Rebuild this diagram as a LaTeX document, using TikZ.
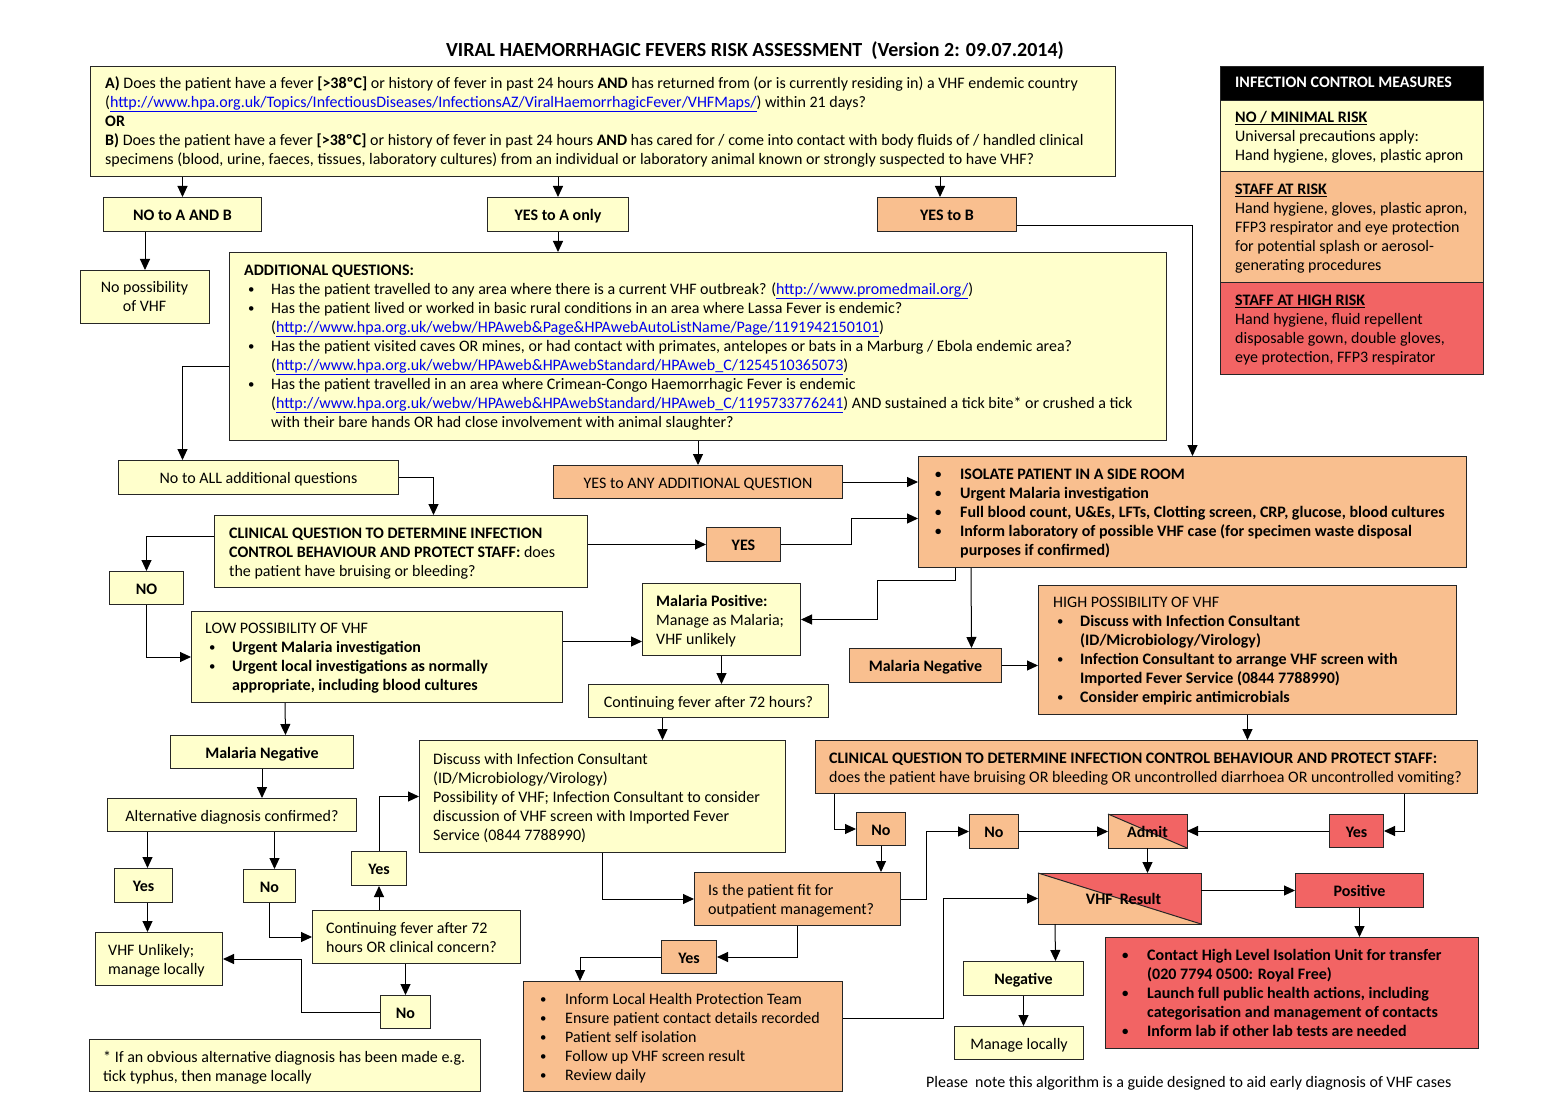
\documentclass[tikz,border=0pt]{standalone}
\usepackage{fontspec}
\usepackage{graphicx}
\setmainfont{Carlito}
\usetikzlibrary{arrows.meta}
\definecolor{cy}{HTML}{FFFFCC}
\definecolor{co}{HTML}{F9BF8F}
\definecolor{cr}{HTML}{F26464}
\definecolor{lnk}{HTML}{0000EE}
\newcommand{\fs}{\fontsize{16}{19}\selectfont}
\newcommand{\lk}[1]{\textcolor{lnk}{\underline{#1}}}
\newcommand{\myb}[1]{\makebox[#1pt][l]{\raisebox{0.6pt}{\scalebox{0.8}{•}}}}
\newcommand{\myi}[1]{\hspace*{#1pt}}
\begin{document}
\begin{tikzpicture}[x=1pt,y=-1pt,
 bx/.style={draw=black!85, line width=1pt, inner sep=0pt, anchor=north west, font=\fs, text height=12pt, text depth=0pt},
 yb/.style={bx, fill=cy}, ob/.style={bx, fill=co}, rb/.style={bx, fill=cr},
 wh/.style 2 args={minimum width=#1pt, minimum height=#2pt},
 tx/.style={anchor=north west, inner sep=0pt, align=left, font=\fs},
 ar/.style={-{Triangle[length=11pt,width=10pt]}, line width=1pt, draw=black},
 bb/.style={font=\fs\bfseries}]
\fill[white] (0,0) rectangle (1550,1115);
\useasboundingbox (0,0) rectangle (1550,1115);

% title
\node[font=\fontsize{20}{22}\selectfont\bfseries] (title) at (755,50.5) {VIRAL HAEMORRHAGIC FEVERS RISK ASSESSMENT\ \ (Version 2: 09.07.2014)};

% top box
\node[yb, wh={1025}{110}] (topA) at (90,66) {};
\node[tx] (topAt) at (105,75) {\strut\textbf{A)} Does the patient have a fever \textbf{[>38ºC]} or history of fever in past 24 hours \textbf{AND} has returned from (or is currently residing in) a VHF endemic country\\
(\lk{http://www.hpa.org.uk/Topics/InfectiousDiseases/InfectionsAZ/ViralHaemorrhagicFever/VHFMaps/}) within 21 days?\\
\textbf{OR}\\
\textbf{B)} Does the patient have a fever \textbf{[>38ºC]} or history of fever in past 24 hours \textbf{AND} has cared for / come into contact with body fluids of / handled clinical\\
specimens (blood, urine, faeces, tissues, laboratory cultures) from an individual or laboratory animal known or strongly suspected to have VHF?};

% infection control measures
\node[bx, fill=black, wh={263}{34}] (icmh) at (1220,66) {};
\node[anchor=base west, inner sep=0pt, text=white, bb] (icmht) at (1235,87.5) {INFECTION CONTROL MEASURES};
\node[yb, wh={263}{71}] (icm1) at (1220,100) {};
\node[tx] (icm1t) at (1235,109) {\strut\textbf{\underline{NO / MINIMAL RISK}}\\ Universal precautions apply:\\ Hand hygiene, gloves, plastic apron};
\node[ob, wh={263}{111}] (icm2) at (1220,171) {};
\node[tx] (icm2t) at (1235,181) {\strut\textbf{\underline{STAFF AT RISK}}\\ Hand hygiene, gloves, plastic apron,\\ FFP3 respirator and eye protection\\ for potential splash or aerosol-\\ generating procedures};
\node[rb, wh={263}{92}] (icm3) at (1220,282) {};
\node[tx] (icm3t) at (1235,292) {\strut\textbf{\underline{STAFF AT HIGH RISK}}\\ Hand hygiene, fluid repellent\\ disposable gown, double gloves,\\ eye protection, FFP3 respirator};

% second row
\node[yb, wh={158}{34}, bb] (noab) at (103,197) {NO to A AND B};
\node[yb, wh={141}{34}, bb] (yesa) at (487,197) {YES to A only};
\node[ob, wh={139}{34}, bb] (yesb) at (877,197) {YES to B};
\node[yb, wh={129}{53}] (nop) at (80,270) {};
\node[anchor=north, inner sep=0pt, align=center, font=\fs] (nopt) at (144.5,279.5) {\strut No possibility\\ of VHF};

% additional questions
\node[yb, wh={937}{188}] (addq) at (229,252) {};
\node[tx] (addqt) at (244,262) {\strut\textbf{ADDITIONAL QUESTIONS:}\\
\myi{4}\myb{23}Has the patient travelled to any area where there is a current VHF outbreak? (\lk{http://www.promedmail.org/})\\
\myi{4}\myb{23}Has the patient lived or worked in basic rural conditions in an area where Lassa Fever is endemic?\\
\myi{27}(\lk{http://www.hpa.org.uk/webw/HPAweb\&Page\&HPAwebAutoListName/Page/1191942150101})\\
\myi{4}\myb{23}Has the patient visited caves OR mines, or had contact with primates, antelopes or bats in a Marburg / Ebola endemic area?\\
\myi{27}(\lk{http://www.hpa.org.uk/webw/HPAweb\&HPAwebStandard/HPAweb\_C/1254510365073})\\
\myi{4}\myb{23}Has the patient travelled in an area where Crimean-Congo Haemorrhagic Fever is endemic\\
\myi{27}(\lk{http://www.hpa.org.uk/webw/HPAweb\&HPAwebStandard/HPAweb\_C/1195733776241}) AND sustained a tick bite* or crushed a tick\\
\myi{27}with their bare hands OR had close involvement with animal slaughter?};

\node[yb, wh={280}{34}] (noall) at (118,460) {No to ALL additional questions};
\node[ob, wh={289}{33}] (yesany) at (553,465) {YES to ANY ADDITIONAL QUESTION};

% isolate
\node[ob, wh={548}{111}] (isol) at (918,456) {};
\node[tx, font=\fs\bfseries] (isolt) at (935,466) {\strut\myb{25}ISOLATE PATIENT IN A SIDE ROOM\\
\myb{25}Urgent Malaria investigation\\
\myb{25}Full blood count, U\&Es, LFTs, Clotting screen, CRP, glucose, blood cultures\\
\myb{25}Inform laboratory of possible VHF case (for specimen waste disposal\\
\myi{25}purposes if confirmed)};

% clinical question 1
\node[yb, wh={373}{72}] (cq1) at (214,515) {};
\node[tx] (cq1t) at (229,525) {\strut\textbf{CLINICAL QUESTION TO DETERMINE INFECTION}\\ \textbf{CONTROL BEHAVIOUR AND PROTECT STAFF:} does\\ the patient have bruising or bleeding?};
\node[ob, wh={74}{34}, bb] (yes1) at (706,527) {YES};
\node[yb, wh={74}{33}, bb] (no1) at (109,571) {NO};

% low possibility
\node[yb, wh={371}{91}] (low) at (191,611) {};
\node[tx] (lowt) at (205,620) {\strut LOW POSSIBILITY OF VHF\\
\myi{4}\myb{23}\textbf{Urgent Malaria investigation}\\
\myi{4}\myb{23}\textbf{Urgent local investigations as normally}\\
\myi{27}\textbf{appropriate, including blood cultures}};

% malaria positive
\node[yb, wh={158}{72}] (mpos) at (642,583) {};
\node[tx] (mpost) at (656,593) {\strut\textbf{Malaria Positive:}\\ Manage as Malaria;\\ VHF unlikely};

\node[ob, wh={152}{34}, bb] (mnegr) at (849,648) {Malaria Negative};

% high possibility
\node[ob, wh={418}{129}] (high) at (1038,585) {};
\node[tx] (hight) at (1053,594) {\strut HIGH POSSIBILITY OF VHF\\
\myi{4}\myb{23}\textbf{Discuss with Infection Consultant}\\
\myi{27}\textbf{(ID/Microbiology/Virology)}\\
\myi{4}\myb{23}\textbf{Infection Consultant to arrange VHF screen with}\\
\myi{27}\textbf{Imported Fever Service (0844 7788990)}\\
\myi{4}\myb{23}\textbf{Consider empiric antimicrobials}};

\node[yb, wh={240}{33}] (cont72) at (588,684) {Continuing fever after 72 hours?};

% discuss
\node[yb, wh={366}{112}] (disc) at (419,740) {};
\node[tx] (disct) at (433,751) {\strut Discuss with Infection Consultant\\ (ID/Microbiology/Virology)\\ Possibility of VHF; Infection Consultant to consider\\ discussion of VHF screen with Imported Fever\\ Service (0844 7788990)};

% left bottom branch
\node[yb, wh={183}{33}, bb] (mnegl) at (170,735) {Malaria Negative};
\node[yb, wh={249}{33}] (alt) at (107,798) {Alternative diagnosis confirmed?};
\node[yb, wh={58}{34}, bb] (yes2) at (114,868) {Yes};
\node[yb, wh={52}{33}, bb] (no2) at (243,869) {No};
\node[yb, wh={127}{53}] (vhfun) at (95,932) {};
\node[tx] (vhfunt) at (108,942) {\strut VHF Unlikely;\\ manage locally};
\node[yb, wh={208}{53}] (c72b) at (312,910) {};
\node[tx] (c72bt) at (326,920) {\strut Continuing fever after 72\\ hours OR clinical concern?};
\node[yb, wh={55}{34}, bb] (yes3) at (351,851) {Yes};
\node[yb, wh={50}{33}, bb] (no3) at (380,995) {No};
\node[yb, wh={391}{52}] (foot) at (89,1039) {};
\node[tx] (foott) at (103,1049) {\strut * If an obvious alternative diagnosis has been made e.g.\\ tick typhus, then manage locally};

% clinical question 2
\node[ob, wh={662}{53}] (cq2) at (815,740) {};
\node[tx] (cq2t) at (829,750) {\strut\textbf{CLINICAL QUESTION TO DETERMINE INFECTION CONTROL BEHAVIOUR AND PROTECT STAFF:}\\ does the patient have bruising OR bleeding OR uncontrolled diarrhoea OR uncontrolled vomiting?};
\node[ob, wh={49}{33}, bb] (no4) at (856,812) {No};
\node[rb, wh={54}{33}, bb] (yes4) at (1329,814) {Yes};
\node[ob, wh={49}{34}, bb] (no5) at (969,814) {No};

% admit split box
\node[bx, draw=none, fill=co, wh={78}{33}] (admit) at (1108,814) {};
\fill[cr] (admit.north west) -- (admit.north east) -- (admit.south east) -- cycle;
\draw[line width=1pt, draw=black!85] (admit.north west) -- (admit.south east);
\draw[line width=1pt, draw=black!85] (admit.south west) rectangle (admit.north east);
\node[bb, text height=12pt, text depth=0pt, inner sep=0pt] (admitt) at (admit.center) {Admit};

% is fit
\node[ob, wh={206}{53}] (isfit) at (694,872) {};
\node[tx] (isfitt) at (708,882) {\strut Is the patient fit for\\ outpatient management?};

% VHF result split box
\node[bx, draw=none, fill=co, wh={162}{50}] (vhfr) at (1038,873) {};
\fill[cr] (vhfr.north west) -- (vhfr.north east) -- (vhfr.south east) -- cycle;
\draw[line width=1pt, draw=black!85] (vhfr.north west) -- (vhfr.south east);
\draw[line width=1pt, draw=black!85] (vhfr.south west) rectangle (vhfr.north east);
\node[bb, text height=12pt, text depth=0pt, inner sep=0pt] (vhfrt) at ([xshift=4pt]vhfr.center) {VHF\ \ Result};

\node[rb, wh={128}{34}, bb] (pos) at (1295,873) {Positive};
\node[rb, wh={373}{111}] (redb) at (1105,937) {};
\node[tx, font=\fs\bfseries] (redbt) at (1122,947) {\strut\myb{25}Contact High Level Isolation Unit for transfer\\
\myi{25}(020 7794 0500: Royal Free)\\
\myb{25}Launch full public health actions, including\\
\myi{25}categorisation and management of contacts\\
\myb{25}Inform lab if other lab tests are needed};
\node[yb, wh={120}{34}, bb] (neg) at (963,961) {Negative};
\node[yb, wh={129}{33}] (manl) at (954,1026) {Manage locally};

\node[ob, wh={55}{33}, bb] (yes5) at (661,940) {Yes};
\node[ob, wh={319}{110}] (inform) at (523,981) {};
\node[tx] (informt) at (540,991) {\strut\myb{25}Inform Local Health Protection Team\\
\myb{25}Ensure patient contact details recorded\\
\myb{25}Patient self isolation\\
\myb{25}Follow up VHF screen result\\
\myb{25}Review daily};

\node[anchor=base west, inner sep=0pt, font=\fs] (note) at (926,1087.5) {Please\ \ note this algorithm is a guide designed to aid early diagnosis of VHF cases};

% connectors
\draw[ar] (topA.south -| noab.north) -- (noab.north);
\draw[ar] (topA.south -| yesa.north) -- (yesa.north);
\draw[ar] ([xshift=-7pt]yesb.north |- topA.south) -- ([xshift=-7pt]yesb.north);
\draw[ar] (noab.south -| nop.north) -- (nop.north);
\draw[ar] (yesa.south) -- (yesa.south |- addq.north);
\draw[ar] ([yshift=-11pt]yesb.east) -| (isol.north);
\draw[ar] ([yshift=-20pt]addq.west) -| ([xshift=-76pt]noall.north);
\draw[ar] (addq.south -| yesany.north) -- (yesany.north);
\draw[ar] (yesany.east) -- (yesany.east -| isol.west);
\draw[ar] (noall.east) -| ([xshift=32.5pt]cq1.north);
\draw[ar] (cq1.east |- yes1) -- (yes1.west);
\draw[ar] (yes1.east) -- ++(70,0) |- ([yshift=-6.5pt]isol.west);
\draw[ar] ([yshift=15pt]cq1.west) -| (no1.north);
\draw[ar] (no1.south) |- (low.west);
\draw[ar] ([yshift=15.5pt]low.east) -- ([yshift=15.5pt]low.east -| mpos.west);
\draw[ar] ([xshift=37pt]isol.south west) |- (877,580) |- (mpos.east);
\draw[ar] ([xshift=53pt]isol.south west) -- ([xshift=46pt]mnegr.north);
\draw[ar] (mnegr.east) -- (mnegr.east -| high.west);
\draw[ar] (mpos.south) -- (mpos.south |- cont72.north);
\draw[ar] ([xshift=-46pt]cont72.south) -- ([xshift=-46pt]cont72.south |- disc.north);
\draw[ar] (disc.south) |- (isfit.west);
\draw[ar] ([xshift=94pt]low.south west) -- ([xshift=23.5pt]mnegl.north);
\draw[ar] (mnegl.south) -- (mnegl.south |- alt.north);
\draw[ar] ([xshift=4pt]yes2.north |- alt.south) -- ([xshift=4pt]yes2.north);
\draw[ar] ([xshift=5pt]no2.north |- alt.south) -- ([xshift=5pt]no2.north);
\draw[ar] ([xshift=4pt]yes2.south) -- ([xshift=4pt]yes2.south |- vhfun.north);
\draw[ar] (no2.south) |- (c72b.west);
\draw[ar] (c72b.north -| yes3.south) -- (yes3.south);
\draw[ar] (yes3.north) |- (disc.west);
\draw[ar] (c72b.south -| no3.north) -- (no3.north);
\draw[ar] (no3.west) -- ++(-79,0) |- (vhfun.east);
\draw[ar] (high.south) -- (high.south |- cq2.north);
\draw[ar] ([xshift=19pt]cq2.south west) |- (no4.west);
\draw[ar] (no4.south) -- (no4.south |- isfit.north);
\draw[ar] ([xshift=-74pt]cq2.south east) |- (yes4.east);
\draw[ar] (yes4.west) -- (yes4.west -| admit.east);
\draw[ar] (isfit.east) -- ++(25,0) |- (no5.west);
\draw[ar] (no5.east) -- (no5.east -| admit.west);
\draw[ar] (admit.south) -- (admit.south |- vhfr.north);
\draw[ar] (vhfr.east |- pos) -- (pos.west);
\draw[ar] (pos.south) -- (pos.south |- redb.north);
\draw[ar] ([xshift=17pt]vhfr.south west) -- ([xshift=32pt]neg.north);
\draw[ar] (neg.south) -- (neg.south |- manl.north);
\draw[ar] (isfit.south) |- (yes5.east);
\draw[ar] (yes5.west) -| ([xshift=57pt]inform.north west);
\draw[ar] ([yshift=18pt]inform.east) -- ++(100,0) |- (vhfr.west);
\end{tikzpicture}
\end{document}
